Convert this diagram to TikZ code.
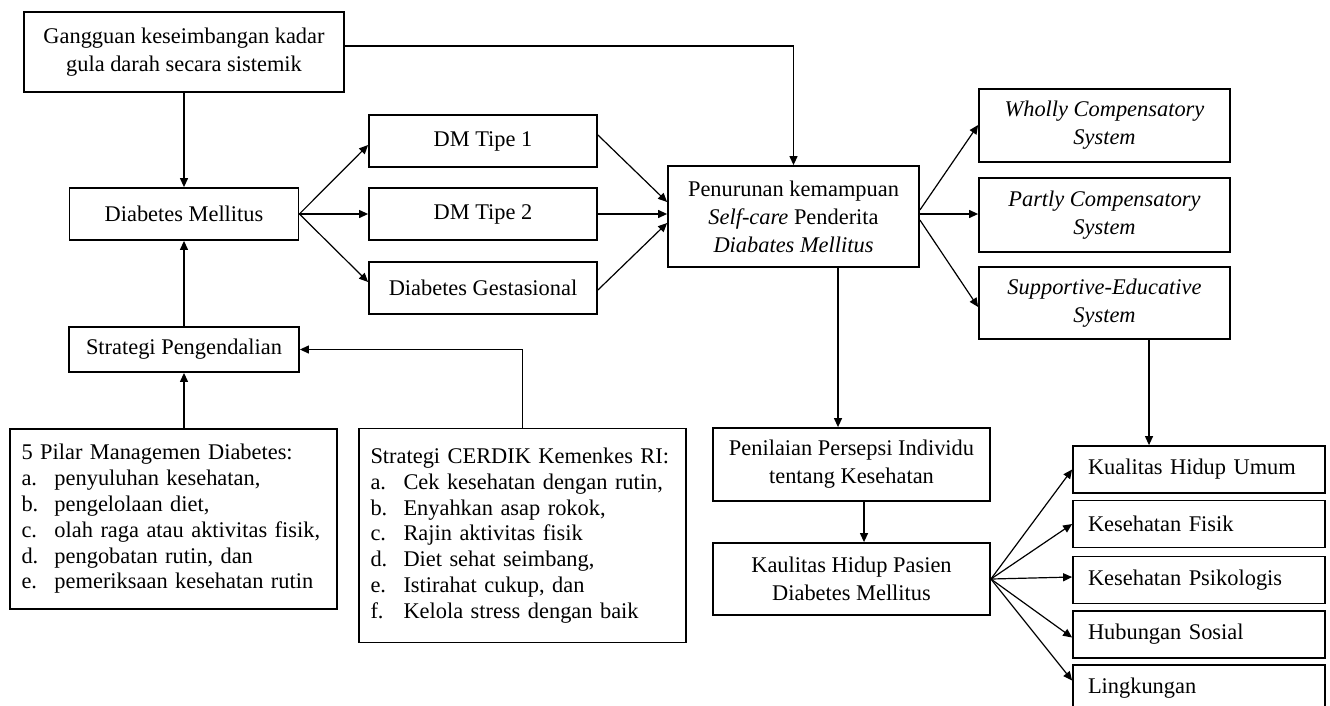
\documentclass[tikz,border=0pt]{standalone}
\usepackage{fontspec}
\setmainfont{Liberation Serif}
\usetikzlibrary{arrows.meta,calc}
\begin{document}
\begin{tikzpicture}[x=0.5pt,y=-0.5pt,line width=0.6pt,>={Triangle[length=4.5pt,width=4pt]},concept/.style={rectangle, draw=black, line width=0.9pt, align=center, inner sep=2pt, font=\fontsize{11.2}{14}\selectfont},list_box/.style={rectangle, draw=black, line width=0.9pt, align=left, text width=152pt, inner xsep=5.75pt, font=\fontsize{11.2}{12.9}\selectfont},aspect/.style={rectangle, draw=black, line width=0.9pt, align=left, text width=111pt, inner xsep=7.5pt, minimum height=23.5pt, font=\fontsize{11.2}{14}\selectfont},]
            \useasboundingbox (0,0) rectangle (1330,706);
            \node[concept, minimum width=160pt, minimum height=40pt] (gangguan) at (184,52) {Gangguan keseimbangan kadar\\gula darah secara sistemik};
            \node[concept, below of=gangguan, yshift=-52.55pt, minimum width=114.5pt, minimum height=26pt] (dm) {Diabetes Mellitus};
            \node[concept, right of=dm, xshift=121.05pt, yshift=36.5pt, minimum width=114pt, minimum height=26pt] (tipe1) {DM Tipe 1};
            \node[concept, right of=dm, xshift=121.05pt, minimum width=114pt, minimum height=26pt] (tipe2) {DM Tipe 2};
            \node[concept, right of=dm, xshift=121.05pt, yshift=-37pt, minimum width=114pt, minimum height=26pt] (gest) {Diabetes Gestasional};
            \node[concept, right of=tipe2, xshift=126.8pt, yshift=-1.25pt, minimum width=125.5pt, minimum height=50.5pt] (pen) {Penurunan kemampuan\\\textit{Self-care} Penderita\\\textit{Diabates Mellitus}};
            \node[concept, right of=pen, xshift=127.05pt, yshift=45.5pt, minimum width=125.5pt, minimum height=36.5pt, font=\fontsize{11.2}{14}\selectfont\itshape] (wholly) {Wholly Compensatory\\System};
            \node[concept, right of=pen, xshift=127.05pt, yshift=0.75pt, minimum width=125.5pt, minimum height=37pt, font=\fontsize{11.2}{14}\selectfont\itshape] (partly) {Partly Compensatory\\System};
            \node[concept, right of=pen, xshift=127.05pt, yshift=-43.25pt, minimum width=125.5pt, minimum height=36pt, font=\fontsize{11.2}{14}\selectfont\itshape] (supp) {Supportive-Educative\\System};
            \node[concept, below of=dm, yshift=-39.3pt, minimum width=115pt, minimum height=22.5pt] (strat) {Strategi Pengendalian};
            \node[list_box, below of=strat, xshift=-5.25pt, yshift=-56.3pt, minimum height=90pt] (pilar) {5 Pilar Managemen Diabetes:\\\makebox[16.5pt][l]{a.}penyuluhan kesehatan,\\\makebox[16.5pt][l]{b.}pengelolaan diet,\\\makebox[16.5pt][l]{c.}olah raga atau aktivitas fisik,\\\makebox[16.5pt][l]{d.}pengobatan rutin, dan\\\makebox[16.5pt][l]{e.}pemeriksaan kesehatan rutin};
            \node[list_box, right of=pilar, xshift=146.05pt, yshift=-8.25pt, minimum height=107pt] (cerdik) {Strategi CERDIK Kemenkes RI:\\\makebox[16.5pt][l]{a.}Cek kesehatan dengan rutin,\\\makebox[16.5pt][l]{b.}Enyahkan asap rokok,\\\makebox[16.5pt][l]{c.}Rajin aktivitas fisik\\\makebox[16.5pt][l]{d.}Diet sehat seimbang,\\\makebox[16.5pt][l]{e.}Istirahat cukup, dan\\\makebox[16.5pt][l]{f.}Kelola stress dengan baik};
            \node[concept, below of=pen, xshift=29pt, yshift=-95.55pt, minimum width=138.5pt, minimum height=36.5pt] (penil) {Penilaian Persepsi Individu\\tentang Kesehatan};
            \node[concept, below of=penil, yshift=-28.8pt, minimum width=138.5pt, minimum height=36pt] (kaul) {Kaulitas Hidup Pasien\\Diabetes Mellitus};
            \node[aspect, right of=kaul, xshift=145.3pt, yshift=54.75pt] (umum) {Kualitas Hidup Umum};
            \node[aspect, below of=umum, yshift=1.2pt] (fisik) {Kesehatan Fisik};
            \node[aspect, below of=fisik, yshift=0.45pt] (psiko) {Kesehatan Psikologis};
            \node[aspect, below of=psiko, yshift=1.2pt] (sosial) {Hubungan Sosial};
            \node[aspect, below of=sosial, yshift=1.45pt] (lingk) {Lingkungan};
            \draw[->] (gangguan) -- (dm);
            \draw[->] ($(gangguan.east)+(0,-6)$) -| (pen.north);
            \draw[->] (dm.east) -- ($(tipe1.west)+(0,4)$);
            \draw[->] (dm.east) -- (tipe2.west);
            \draw[->] (dm.east) -- ($(gest.west)+(0,-6)$);
            \draw[->] ($(tipe1.east)+(0,-6)$) -- ($(pen.west)+(0,-14.5)$);
            \draw[->] (tipe2.east) -- (tipe2.east -| pen.west);
            \draw[->] ($(gest.east)+(0,2)$) -- ($(pen.west)+(0,6.5)$);
            \draw[->] ($(pen.east)+(0,-6.5)$) -- ($(wholly.west)+(0,-0.5)$);
            \draw[->] ($(pen.east)+(0,-2.5)$) -- ($(partly.west)+(0,-1)$);
            \draw[->] ($(pen.east)+(0,3.5)$) -- ($(supp.west)+(0,4)$);
            \draw[->] (strat) -- (dm);
            \draw[->] (strat |- pilar.north) -- (strat.south);
            \draw[->] (cerdik.north) |- (strat.east);
            \draw[->] ($(pen.south)+(44.5,0)$) -- ($(penil.north)+(-13.5,0)$);
            \draw[->] ($(penil.south)+(12.5,0)$) -- ($(kaul.north)+(12.5,0)$);
            \draw[->] ($(supp.south)+(44.5,0)$) -- ($(umum.north)+(-50,0)$);
            \draw[->] (kaul.east) -- (umum.west);
            \draw[->] (kaul.east) -- (fisik.west);
            \draw[->] (kaul.east) -- ($(psiko.west)+(0,-3)$);
            \draw[->] (kaul.east) -- ($(sosial.west)+(0,3)$);
            \draw[->] (kaul.east) -- ($(lingk.west)+(0,-8)$);
        \end{tikzpicture}
\end{document}
